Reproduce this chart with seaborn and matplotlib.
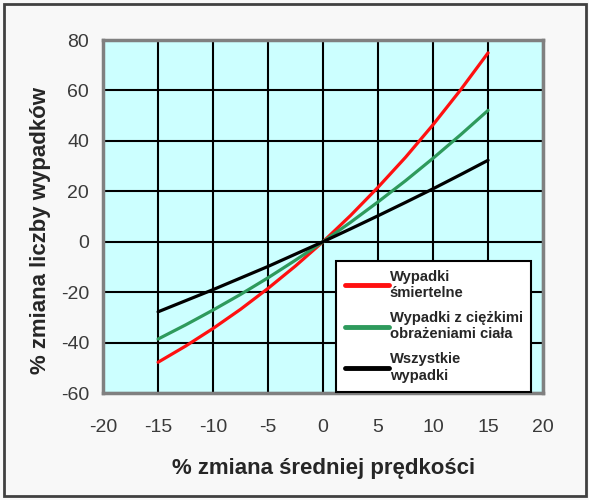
import pandas as pd
import matplotlib
matplotlib.use("Agg")
import matplotlib.pyplot as plt
import seaborn as sns
from matplotlib.lines import Line2D
from matplotlib.patches import Rectangle

# Data
speed_change = [-15, -12.5, -10, -7.5, -5, -2.5, 0, 2.5, 5, 7.5, 10, 12.5, 15]
fatal = [-47.8, -41.4, -34.4, -26.8, -18.5, -9.6, 0, 10.4, 21.6, 33.5, 46.4, 60.2, 74.9]
serious = [-38.6, -33.0, -27.1, -20.9, -14.3, -7.3, 0, 7.7, 15.8, 24.2, 33.1, 42.4, 52.1]
all_acc = [-27.8, -23.4, -19.0, -14.4, -9.8, -4.9, 0, 5.1, 10.3, 15.6, 21.0, 26.6, 32.3]

series_names = ["Wypadki\nśmiertelne",
                "Wypadki z ciężkimi\nobrażeniami ciała",
                "Wszystkie\nwypadki"]
colors = ["#ff1010", "#2e9a5c", "#000000"]

df = pd.DataFrame({
    "x": speed_change * 3,
    "y": fatal + serious + all_acc,
    "series": [series_names[0]] * len(speed_change)
              + [series_names[1]] * len(speed_change)
              + [series_names[2]] * len(speed_change),
})

sns.set_style("white")
plt.rcParams["font.family"] = ["Liberation Sans", "DejaVu Sans"]
plt.rcParams["axes.unicode_minus"] = False

fig = plt.figure(figsize=(5.89, 5.0), dpi=100)
fig.patch.set_facecolor("#f8f8f8")
ax = fig.add_axes([0.175, 0.214, 0.747, 0.706])
ax.set_facecolor("#ccffff")

sns.lineplot(data=df, x="x", y="y", hue="series", palette=colors,
             linewidth=2.3, ax=ax, legend=False)

ax.set_xlim(-20, 20)
ax.set_ylim(-60, 80)
ax.set_xticks(range(-20, 21, 5))
ax.set_yticks(range(-60, 81, 20))
ax.grid(True, color="black", linewidth=1.5)
ax.set_axisbelow(True)
for sp in ax.spines.values():
    sp.set_color("#808080")
    sp.set_linewidth(2.5)
ax.tick_params(length=0, labelsize=14, labelcolor="#3a3a3a")
ax.tick_params(axis="x", pad=19)
ax.tick_params(axis="y", pad=10)

ax.set_xlabel("% zmiana średniej prędkości", fontsize=16, fontweight="bold")
ax.set_ylabel("% zmiana liczby wypadków", fontsize=16, fontweight="bold")
ax.xaxis.set_label_coords(0.5, -0.185)
ax.yaxis.set_label_coords(-0.118, 0.459)

handles = [Line2D([0], [0], color=c, linewidth=3.5) for c in colors]
leg = ax.legend(handles, series_names, loc="lower right", bbox_to_anchor=(0.977, 0.0),
                frameon=True, fancybox=False, framealpha=1, edgecolor="black",
                prop={"size": 10.6, "weight": "bold"}, handlelength=3.0,
                handletextpad=0.05, borderpad=0.6, labelspacing=0.75,
                borderaxespad=0.1)
leg.get_frame().set_linewidth(1.5)

fig.patches.append(Rectangle((0.007, 0.008), 0.988, 0.984, transform=fig.transFigure,
                             fill=False, edgecolor="#404040", linewidth=2))

fig.savefig("out.png", dpi=100, facecolor=fig.get_facecolor())
